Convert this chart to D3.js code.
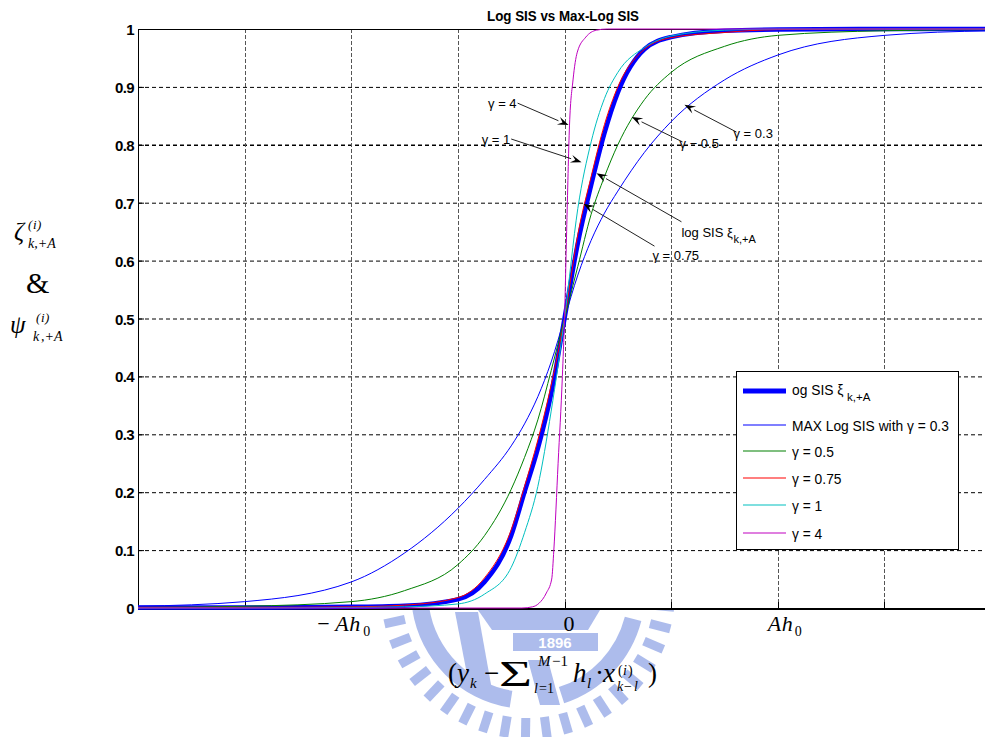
<!DOCTYPE html>
<html>
<head>
<meta charset="utf-8">
<script src="https://cdn.jsdelivr.net/npm/d3@7"></script>
<style>
  body { margin: 0; background: #fff; }
  svg { display: block; }
</style>
</head>
<body>
<svg id="chart" width="985" height="737"></svg>
<script>
// ---- data (x in units of the grid step; Ah0 = 2 steps) ----
const xGrid = [-3, -2, -1, 0, 1, 2, 3];
const xTickVals = [-4, -3, -2, -1, 0, 1, 2, 3, 4];
const yTicks = [0, 0.1, 0.2, 0.3, 0.4, 0.5, 0.6, 0.7, 0.8, 0.9, 1];
const yTickLabels = ["0", "0.1", "0.2", "0.3", "0.4", "0.5", "0.6", "0.7", "0.8", "0.9", "1"];

const xs = [-4, -3, -2, -1.5, -1, -0.75, -0.5, -0.375, -0.25, -0.125, 0,
            0.125, 0.25, 0.375, 0.5, 0.75, 1, 1.5, 2, 3, 4];
const logSIS   = [0.001, 0.001, 0.002, 0.004, 0.015, 0.045, 0.125, 0.200, 0.275, 0.370, 0.5,
                  0.630, 0.730, 0.820, 0.890, 0.965, 0.986, 0.997, 0.999, 1, 1];
const gamma03  = [0.003, 0.011, 0.045, 0.095, 0.172, 0.222, 0.280, 0.318, 0.365, 0.425, 0.5,
                  0.575, 0.635, 0.682, 0.720, 0.787, 0.840, 0.912, 0.955, 0.989, 0.997];
const gamma05  = [0.001, 0.003, 0.011, 0.030, 0.075, 0.125, 0.205, 0.260, 0.325, 0.410, 0.5,
                  0.590, 0.680, 0.745, 0.800, 0.878, 0.925, 0.970, 0.989, 0.997, 0.999];
const gamma075 = [0.001, 0.001, 0.002, 0.005, 0.018, 0.052, 0.135, 0.210, 0.290, 0.385, 0.5,
                  0.645, 0.745, 0.835, 0.900, 0.965, 0.985, 0.994, 0.999, 1, 1];
const gamma1   = [0, 0, 0.001, 0.002, 0.007, 0.024, 0.070, 0.130, 0.210, 0.340, 0.5,
                  0.690, 0.805, 0.880, 0.925, 0.968, 0.988, 0.998, 1, 1, 1];
const gamma4X  = [-4, -0.4, -0.3, -0.24, -0.17, -0.12, -0.1, -0.06, -0.02, 0,
                  0.02, 0.047, 0.08, 0.12, 0.2, 0.3, 0.4, 4];
const gamma4   = [0, 0, 0.002, 0.008, 0.026, 0.05, 0.1, 0.25, 0.4, 0.5,
                  0.65, 0.834, 0.912, 0.96, 0.986, 0.998, 1, 1];

const seriesNames  = ["og SIS ξ", "MAX Log SIS with γ = 0.3", "γ = 0.5", "γ = 0.75", "γ = 1", "γ = 4"];
const seriesColors = ["#0000ff", "#0000ff", "#008000", "#ff0000", "#00bfbf", "#bf00bf"];
const seriesWidths = [4.5, 1, 1, 1, 1, 1];

// text arrows: tip and tail in data units
const arrowLabels = ["γ = 4", "γ = 1", "γ − 0.5", "γ = 0.3", "log SIS ξ", "γ = 0.75"];
const arrowTips   = [[0.038, 0.834], [0.16, 0.770], [0.63, 0.848], [1.125, 0.869], [0.30, 0.751], [0.178, 0.698]];
const arrowTails  = [[-0.44, 0.872], [-0.50, 0.810], [1.107, 0.805], [1.613, 0.822], [1.097, 0.667], [0.844, 0.625]];

// ---- layout ----
const svg = d3.select("#chart");
const W = 985, H = 737;
const plot = { left: 138, right: 991, top: 29, bottom: 608 };
const x = d3.scaleLinear().domain([-4, 4]).range([plot.left, plot.right]);
const y = d3.scaleLinear().domain([0, 1]).range([plot.bottom, plot.top]);
const SANS = "'Liberation Sans', Arial, Helvetica, sans-serif";
const SERIF = "'Liberation Serif', 'Times New Roman', Times, serif";

svg.append("rect").attr("width", W).attr("height", H).attr("fill", "#fff");

// ---- faint university seal behind the lower part of the page ----
(function seal() {
  const g = svg.append("g").attr("fill", "#9fb1e9").attr("opacity", 0.85);
  const cx = 528, cy = 592;
  for (let a = 6; a <= 176; a += 8.5) {
    g.append("rect")
      .attr("x", -4.5).attr("y", 126).attr("width", 9).attr("height", 21)
      .attr("transform", `translate(${cx},${cy}) rotate(${a - 90})`);
  }
  const band = d3.arc().innerRadius(100).outerRadius(117)
    .startAngle(Math.PI * 1.05).endAngle(Math.PI * 1.45);
  g.append("path").attr("d", band()).attr("transform", `translate(${cx},${cy})`);
  const band2 = d3.arc().innerRadius(100).outerRadius(117)
    .startAngle(Math.PI * 0.58).endAngle(Math.PI * 0.9);
  g.append("path").attr("d", band2()).attr("transform", `translate(${cx},${cy})`);
  g.append("path").attr("d", "M455,612 L478,612 L492,690 L470,690 Z");
  g.append("path").attr("d", "M478,610 L600,610 L588,630 L492,630 Z");
  g.append("rect").attr("x", 513).attr("y", 633).attr("width", 85).attr("height", 18);
  g.append("text").attr("x", 555).attr("y", 648).attr("text-anchor", "middle")
    .attr("fill", "#fff").attr("font-family", SANS).attr("font-weight", "bold")
    .attr("font-size", 15).text("1896");
  g.append("path").attr("d", "M528,660 L548,660 L560,705 L540,705 Z");
})();

// ---- plot background ----
svg.append("rect")
  .attr("x", plot.left).attr("y", plot.top)
  .attr("width", plot.right - plot.left).attr("height", plot.bottom - plot.top)
  .attr("fill", "#fff");

// ---- grid ----
const grid = svg.append("g");
grid.selectAll("line.h").data(yTicks.filter(d => d > 0 && d < 1)).join("line")
  .attr("x1", plot.left).attr("x2", plot.right)
  .attr("y1", d => y(d) + 0.5).attr("y2", d => y(d) + 0.5)
  .attr("stroke", "#000").attr("stroke-width", d => Math.abs(d - 0.8) < 1e-6 ? 1.6 : 1)
  .attr("stroke-dasharray", "4,3");
grid.selectAll("line.v").data(xGrid).join("line")
  .attr("x1", d => Math.round(x(d)) + 0.5).attr("x2", d => Math.round(x(d)) + 0.5)
  .attr("y1", plot.top).attr("y2", plot.bottom)
  .attr("stroke", "#555").attr("stroke-dasharray", "4,2");

// ---- axes frame and ticks ----
const axes = svg.append("g").attr("stroke", "#000");
axes.append("line").attr("x1", plot.left + 0.5).attr("x2", plot.left + 0.5)
  .attr("y1", plot.top).attr("y2", plot.bottom + 1);
axes.append("line").attr("x1", plot.left).attr("x2", plot.right)
  .attr("y1", plot.top + 0.5).attr("y2", plot.top + 0.5);
axes.append("line").attr("x1", plot.left).attr("x2", plot.right)
  .attr("y1", plot.bottom + 1).attr("y2", plot.bottom + 1).attr("stroke-width", 2);
axes.selectAll("line.tb").data(xTickVals).join("line")
  .attr("x1", d => Math.round(x(d)) + 0.5).attr("x2", d => Math.round(x(d)) + 0.5)
  .attr("y1", plot.bottom).attr("y2", plot.bottom - 6);
axes.selectAll("line.tl").data(yTicks).join("line")
  .attr("x1", plot.left).attr("x2", plot.left + 6)
  .attr("y1", d => y(d) + 0.5).attr("y2", d => y(d) + 0.5);

svg.append("g").selectAll("text").data(yTicks).join("text")
  .attr("x", plot.left - 4).attr("y", d => y(d) + 6)
  .attr("text-anchor", "end")
  .attr("font-family", SANS).attr("font-weight", "bold").attr("font-size", 15)
  .attr("letter-spacing", -0.6)
  .text((d, i) => yTickLabels[i]);

// ---- curves ----
const seriesY = [logSIS, gamma03, gamma05, gamma075, gamma1, gamma4];
const seriesX = [xs, xs, xs, xs, xs, gamma4X];
const line = d3.line().x(d => x(d[0])).y(d => y(d[1])).curve(d3.curveMonotoneX);
const curves = svg.append("g").attr("fill", "none");
seriesY.forEach((vals, i) => {
  const pts = vals.map((v, j) => [seriesX[i][j], v]);
  curves.append("path").attr("d", line(pts))
    .attr("stroke", seriesColors[i]).attr("stroke-width", seriesWidths[i])
    .attr("stroke-linejoin", "round");
});

// ---- text arrows ----
const ann = svg.append("g");
arrowLabels.forEach((lab, i) => {
  const [tx, ty] = [x(arrowTips[i][0]), y(arrowTips[i][1])];
  const [sx, sy] = [x(arrowTails[i][0]), y(arrowTails[i][1])];
  const a = Math.atan2(ty - sy, tx - sx);
  const L = 11, Wd = 4;
  const bx = tx - L * Math.cos(a), by = ty - L * Math.sin(a);
  ann.append("line").attr("x1", sx).attr("y1", sy).attr("x2", bx).attr("y2", by)
    .attr("stroke", "#222").attr("stroke-width", 1);
  const p1 = [bx - Wd * Math.sin(a), by + Wd * Math.cos(a)];
  const p2 = [bx + Wd * Math.sin(a), by - Wd * Math.cos(a)];
  const nx = tx - 0.6 * L * Math.cos(a), ny = ty - 0.6 * L * Math.sin(a);
  ann.append("path").attr("d", `M${tx},${ty}L${p1}L${nx},${ny}L${p2}Z`).attr("fill", "#000");
  const leftSide = sx < tx;
  const t = ann.append("text")
    .attr("font-family", SANS).attr("font-size", 13).attr("fill", "#000");
  if (leftSide) {
    t.attr("x", sx - 1).attr("y", sy + 5).attr("text-anchor", "end").text(lab);
  } else if (lab.startsWith("log")) {
    t.attr("x", sx).attr("y", sy + 15).text(lab);
    ann.append("text").attr("font-family", SANS).attr("font-size", 11)
      .attr("x", sx + 52).attr("y", sy + 21).text("k,+A");
  } else if (lab === "γ = 0.75") {
    t.attr("x", sx - 2).attr("y", sy + 14).text(lab);
  } else {
    t.attr("x", sx - 3).attr("y", sy + 6).text(lab);
  }
});

// ---- legend ----
const lg = svg.append("g");
lg.append("rect").attr("x", 736.5).attr("y", 371.5).attr("width", 222).attr("height", 178)
  .attr("fill", "#fff").attr("stroke", "#000");
const rowY = [391, 425, 451, 478, 505, 533];
seriesNames.forEach((name, i) => {
  lg.append("line").attr("x1", 743).attr("x2", 786).attr("y1", rowY[i]).attr("y2", rowY[i])
    .attr("stroke", seriesColors[i]).attr("stroke-width", i === 0 ? 5 : 1.2);
  lg.append("text").attr("x", 792).attr("y", rowY[i] + (i === 0 ? 4 : 6))
    .attr("font-family", SANS).attr("font-size", 13.8).text(name);
  if (i === 0) {
    lg.append("text").attr("x", 847).attr("y", rowY[i] + 10)
      .attr("font-family", SANS).attr("font-size", 11.5).text("k,+A");
  }
});

// ---- title ----
svg.append("text").attr("x", 563).attr("y", 21).attr("text-anchor", "middle")
  .attr("font-family", SANS).attr("font-weight", "bold").attr("font-size", 15)
  .attr("textLength", 152).attr("lengthAdjust", "spacingAndGlyphs")
  .text("Log SIS vs Max-Log SIS");

// ---- math labels ----
function runs(g, ox, oy, parts) {
  parts.forEach(p => {
    const t = g.append("text").attr("x", ox + p.dx).attr("y", oy + (p.dy || 0))
      .attr("font-family", SERIF).attr("font-size", p.size)
      .attr("font-style", p.it ? "italic" : "normal").attr("fill", "#000").text(p.t);
    if (p.len) t.attr("textLength", p.len).attr("lengthAdjust", "spacingAndGlyphs");
  });
}
const math = svg.append("g");
// x tick labels
runs(math, x(-2), 631, [
  { t: "−", dx: -34, size: 22 }, { t: "A", dx: -16, size: 22, it: true },
  { t: "h", dx: -2, size: 22, it: true }, { t: "0", dx: 12, dy: 5, size: 14 }]);
runs(math, x(0), 631, [{ t: "0", dx: -1, size: 22 }]);
runs(math, x(2), 631, [
  { t: "A", dx: -10, size: 22, it: true }, { t: "h", dx: 4, size: 22, it: true },
  { t: "0", dx: 17, dy: 5, size: 14 }]);
// x axis title
runs(math, 448, 682, [
  { t: "(", dx: 0, size: 27 }, { t: "y", dx: 9, size: 27, it: true },
  { t: "k", dx: 22, dy: 6, size: 15, it: true }, { t: "−", dx: 36, size: 27 },
  { t: "Σ", dx: 51, dy: 4, size: 36, len: 33 },
  { t: "M", dx: 90, dy: -16, size: 15, it: true }, { t: "−1", dx: 104, dy: -16, size: 15 },
  { t: "l", dx: 86, dy: 11, size: 14, it: true }, { t: "=1", dx: 91, dy: 11, size: 14 },
  { t: "h", dx: 125, size: 27, it: true }, { t: "l", dx: 139, dy: 6, size: 15, it: true },
  { t: "·", dx: 147, size: 27 }, { t: "x", dx: 155, size: 27, it: true },
  { t: "(", dx: 170, dy: -7, size: 14 }, { t: "i", dx: 175, dy: -7, size: 14, it: true },
  { t: ")", dx: 180, dy: -7, size: 14 },
  { t: "k", dx: 169, dy: 9, size: 14, it: true }, { t: "−", dx: 176, dy: 9, size: 14 },
  { t: "l", dx: 186, dy: 9, size: 14, it: true },
  { t: ")", dx: 200, size: 27 }]);
// y axis title
runs(math, 14, 240, [
  { t: "ζ", dx: 0, size: 25, it: true },
  { t: "(", dx: 14, dy: -11, size: 13, it: true }, { t: "i", dx: 19, dy: -11, size: 13, it: true },
  { t: ")", dx: 23, dy: -11, size: 13, it: true },
  { t: "k,+A", dx: 14, dy: 8, size: 14, it: true }]);
runs(math, 26, 293, [{ t: "&", dx: 0, size: 30 }]);
runs(math, 10, 333, [
  { t: "ψ", dx: 0, size: 25, it: true },
  { t: "(", dx: 26, dy: -11, size: 13, it: true }, { t: "i", dx: 31, dy: -11, size: 13, it: true },
  { t: ")", dx: 35, dy: -11, size: 13, it: true },
  { t: "k", dx: 23, dy: 8, size: 14, it: true }, { t: ",+A", dx: 31, dy: 8, size: 14, it: true }]);
</script>
</body>
</html>
